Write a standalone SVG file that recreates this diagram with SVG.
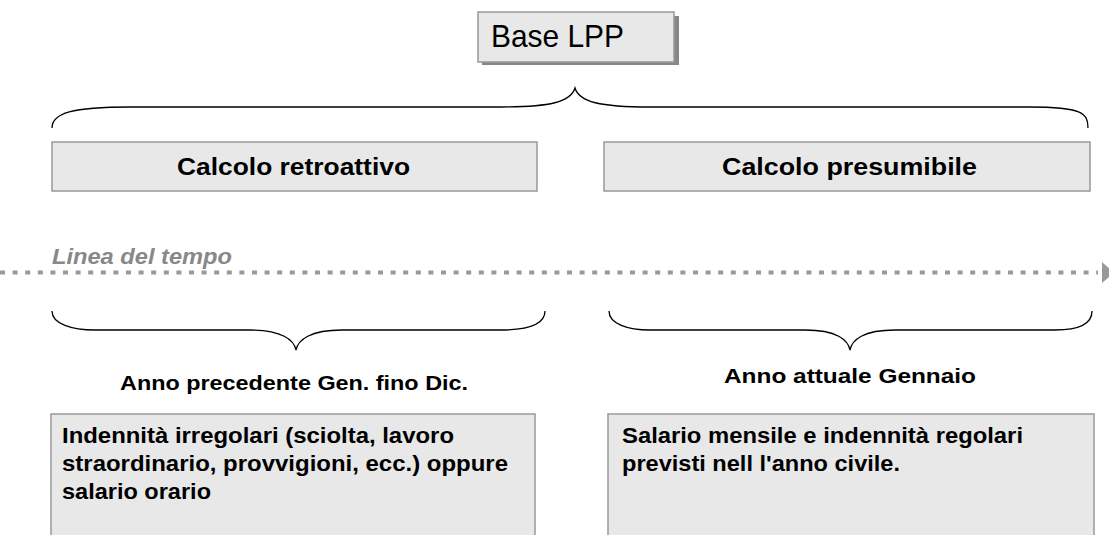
<svg xmlns="http://www.w3.org/2000/svg" width="1109" height="535" viewBox="0 0 1109 535">
<style>
.box{fill:#e8e8e8;stroke:#999;stroke-width:1.5}
.brace{fill:none;stroke:#000;stroke-width:1.3}
.t{font-family:"Liberation Sans",Arial,sans-serif;fill:#000}
.b{font-weight:bold}
</style>
<rect width="1109" height="535" fill="#fff"/>
<g id="base-lpp">
<rect x="482" y="16" width="197" height="49" fill="#888"/>
<rect class="box" x="478" y="12" width="196" height="50"/>
<text class="t" x="491" y="47" font-size="30.5" textLength="133" lengthAdjust="spacingAndGlyphs">Base LPP</text>
</g>
<g id="connectors">
<path class="brace" d="M52,128 C52,113 72,107 130,107 L500,107 C550,107 571,102 575,88 C579,102 600,107 650,107 L1030,107 C1082,107 1088,113 1088,128"/>
<path class="brace" d="M52,311 C52,324 72,330 95,330 L250,330 C282,330 294,340 296,350 C298,340 310,330 342,330 L500,330 C528,330 545,324 545,311"/>
<path class="brace" d="M609,311 C609,324 628,330 650,330 L805,330 C837,330 848,340 850,350 C852,340 863,330 895,330 L1055,330 C1080,330 1092,324 1092,311"/>
</g>
<g id="calcolo-retroattivo">
<rect class="box" x="52" y="142" width="485" height="49"/>
<text class="t b" x="177" y="175" font-size="23.5" textLength="233" lengthAdjust="spacingAndGlyphs">Calcolo retroattivo</text>
</g>
<g id="calcolo-presumibile">
<rect class="box" x="604" y="142" width="486" height="49"/>
<text class="t b" x="722" y="175" font-size="23.5" textLength="255" lengthAdjust="spacingAndGlyphs">Calcolo presumibile</text>
</g>
<g id="timeline">
<line x1="0" y1="272.5" x2="1098" y2="272.5" stroke="#999" stroke-width="3.8" stroke-dasharray="5,7.6"/>
<polygon points="1102,262 1114,272.5 1102,283" fill="#999"/>
<text class="t b" x="52" y="264" font-size="21.5" font-style="italic" style="fill:#888" textLength="180" lengthAdjust="spacingAndGlyphs">Linea del tempo</text>
</g>
<g id="anno-precedente">
<text class="t b" x="120" y="390" font-size="19.5" textLength="348" lengthAdjust="spacingAndGlyphs">Anno precedente Gen. fino Dic.</text>
</g>
<g id="anno-attuale">
<text class="t b" x="724" y="383" font-size="19.5" textLength="252" lengthAdjust="spacingAndGlyphs">Anno attuale Gennaio</text>
</g>
<g id="indennita-irregolari">
<rect class="box" x="51" y="414" width="484" height="130"/>
<text class="t b" font-size="22.5">
<tspan x="62" y="443" textLength="392" lengthAdjust="spacingAndGlyphs">Indennità irregolari (sciolta, lavoro</tspan>
<tspan x="62" y="471" textLength="446" lengthAdjust="spacingAndGlyphs">straordinario, provvigioni, ecc.) oppure</tspan>
<tspan x="62" y="499" textLength="149" lengthAdjust="spacingAndGlyphs">salario orario</tspan>
</text>
</g>
<g id="salario-mensile">
<rect class="box" x="608" y="414" width="486" height="130"/>
<text class="t b" font-size="22.5">
<tspan x="622" y="443" textLength="401" lengthAdjust="spacingAndGlyphs">Salario mensile e indennità regolari</tspan>
<tspan x="622" y="471" textLength="278" lengthAdjust="spacingAndGlyphs">previsti nell l'anno civile.</tspan>
</text>
</g>
</svg>
